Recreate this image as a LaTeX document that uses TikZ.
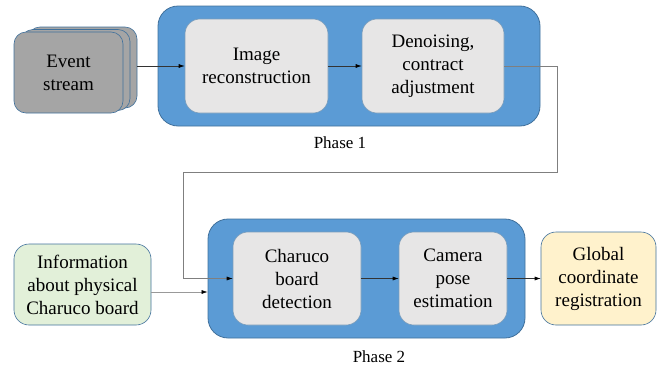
\documentclass[tikz,border=0pt]{standalone}
\usepackage{fontspec}
\setmainfont{LiberationSerif-Regular.ttf}
\usetikzlibrary{arrows.meta}

\definecolor{phaseblue}{HTML}{5B9BD5}
\definecolor{edgeblue}{HTML}{41719C}
\definecolor{boxgray}{HTML}{E7E6E6}
\definecolor{streamgray}{HTML}{A5A5A5}
\definecolor{infogreen}{HTML}{E2F0D9}
\definecolor{globyellow}{HTML}{FFF2CC}
\definecolor{linkgray}{HTML}{7F7F7F}

\tikzset{
  phasebox/.style={draw=edgeblue,fill=phaseblue,rounded corners=20pt,line width=0.8pt},
  stepbox/.style={draw=edgeblue!70,fill=boxgray,rounded corners=15pt,line width=0.6pt,
    align=center,font=\fontsize{19}{23}\selectfont},
  streambox/.style={draw=edgeblue,fill=streamgray,rounded corners=12pt,line width=0.6pt,
    minimum width=109pt,minimum height=81pt,align=center,font=\fontsize{19}{23}\selectfont},
  phaselabel/.style={font=\fontsize{17}{20}\selectfont},
  link/.style={draw=black!80,line width=0.6pt,-{Latex[length=6pt,width=4pt,color=black]}}
}

\begin{document}
\begin{tikzpicture}[x=1pt,y=-1pt]
			\useasboundingbox (0,0) rectangle (670,367);
			
			% phase frames
			\node[phasebox,minimum width=382pt,minimum height=120pt] (p1) at (349,66) {};
			\node[phasebox,minimum width=317pt,minimum height=119pt] (p2) at (366.5,278.5) {};
			\node[phaselabel] (p1lbl) at (340,143) {Phase 1};
			\node[phaselabel] (p2lbl) at (379,357) {Phase 2};
			
			% event stream stack
			\node[streambox] (es3) at (82.5,67.5) {};
			\node[streambox] (es2) at (75.5,70) {};
			\node[streambox] (es) at (68.5,72.5) {Event\\stream};
			
			% steps
			\node[stepbox,minimum width=143pt,minimum height=94pt] (img) at (256.5,66) {Image\\reconstruction};
			\node[stepbox,minimum width=142pt,minimum height=94pt] (den) at (433,66) {Denoising,\\contract\\adjustment};
			\node[stepbox,minimum width=128pt,minimum height=93pt] (cha) at (297,278.5) {Charuco\\board\\detection};
			\node[stepbox,minimum width=108pt,minimum height=93pt] (cam) at (453,278.5) {Camera\\pose\\estimation};
			\node[stepbox,fill=globyellow,draw=edgeblue,minimum width=115pt,minimum height=93pt] (glob) at (598.5,278.5) {Global\\coordinate\\registration};
			\node[stepbox,fill=infogreen,draw=edgeblue,minimum width=137pt,minimum height=81pt] (info) at (82.5,284.5) {Information\\about physical\\Charuco board};
			
			% connectors
			\coordinate (c1) at (557,172);
			\coordinate (c2) at (183,172);
			\coordinate (ie) at ([yshift=-7.5pt]info.east);
			\draw[link] (es3.east |- img.west) -- (img.west);
			\draw[link] (img.east) -- (den.west);
			\draw[link,draw=linkgray] (den.east) -| (c1) -- (c2) |- (cha.west);
			\draw[link,draw=black!40] (ie) -- (p2.west |- ie);
			\draw[link] (cha.east) -- (cam.west);
			\draw[link] (cam.east) -- (glob.west);
			\end{tikzpicture}
\end{document}
